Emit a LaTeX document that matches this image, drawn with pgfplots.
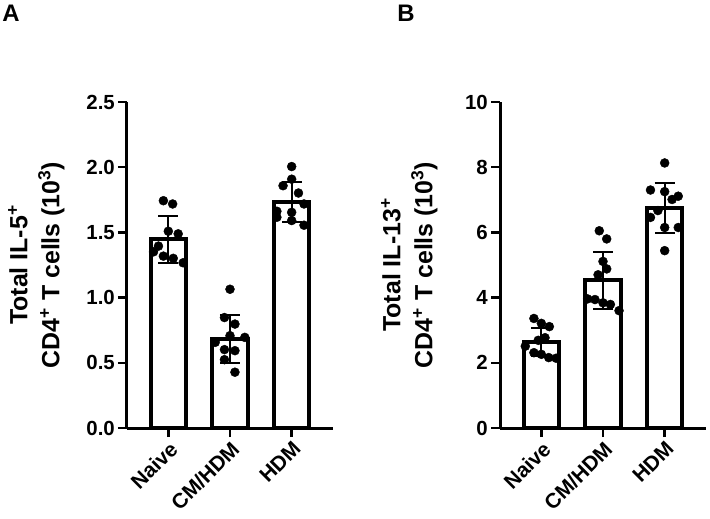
\documentclass[border=0pt]{standalone}
\usepackage{fontspec}
\setmainfont{Liberation Sans}
\usepackage{pgfplots}
\pgfplotsset{compat=1.18}

\pgfplotsset{
  prism/.style={
    scale only axis, width=206bp, height=326bp,
    xmin=-0.67, xmax=2.67, ymin=0,
    axis x line=bottom, axis y line=left,
    axis line style={-, line width=3bp, black},
    tick align=outside, major tick length=9bp,
    tick style={line width=2.5bp, black},
    xtick={0,1,2}, xticklabels={Naive, CM/HDM, HDM},
    xticklabel style={rotate=45, anchor=north east, inner sep=2bp,
      font=\fontsize{21}{24}\selectfont\bfseries},
    yticklabel style={font=\fontsize{20.5}{24}\selectfont\bfseries, inner sep=3bp},
    /pgf/number format/assume math mode=true,
    ylabel style={at={(axis description cs:-0.44,0.5)}, anchor=center,
      align=center, font=\fontsize{25}{32}\selectfont\bfseries},
    clip=false,
  },
  meanbar/.style={ybar, bar width=0.57, bar shift=0pt, draw=black, fill=white,
    line width=4bp,
    error bars/.cd, y dir=both, y explicit,
    error bar style={line width=2bp, black},
    error mark options={rotate=90, mark size=10bp, line width=2bp, black}},
  dots/.style={only marks, mark=*, mark size=4.5bp, black},
}

\begin{document}
\begin{tikzpicture}
\path[use as bounding box] (-127bp,-91bp) rectangle (583bp,428bp);

% Panel A: IL-5+ CD4+ T cells
\begin{axis}[prism, at={(0,0)}, anchor=south west,
  ymax=2.5, ytick={0,0.5,1,1.5,2,2.5},
  yticklabel style={/pgf/number format/.cd, fixed, fixed zerofill, precision=1},
  ylabel={Total IL-5\textsuperscript{+}\\CD4\textsuperscript{+} T cells (10\textsuperscript{3})}]
\addplot[meanbar] coordinates {
  (0,1.446) +- (0,0.178)
  (1,0.682) +- (0,0.186)
  (2,1.733) +- (0,0.153)
};
\addplot[dots] coordinates {
  (-0.08,1.743) (0.07,1.718) (0.00,1.509) (0.16,1.489) (-0.16,1.395)
  (-0.24,1.351) (-0.08,1.318) (0.08,1.301) (0.24,1.267)
};
\addplot[dots] coordinates {
  (1.00,1.064) (0.91,0.847) (1.08,0.797) (1.00,0.708) (1.24,0.695)
  (0.76,0.657) (0.91,0.601) (1.08,0.593) (0.91,0.524) (1.08,0.428)
};
\addplot[dots] coordinates {
  (2.00,2.005) (2.00,1.908) (1.86,1.858) (2.11,1.802) (2.20,1.718)
  (1.76,1.662) (2.00,1.654) (1.76,1.616) (2.00,1.591) (2.20,1.555)
};
\end{axis}
\node[font=\fontsize{24}{26}\selectfont\bfseries] at (-116bp,415bp) {A};

% Panel B: IL-13+ CD4+ T cells
\begin{axis}[prism, at={(373bp,0)}, anchor=south west,
  ymax=10, ytick={0,2,4,6,8,10},
  ylabel={Total IL-13\textsuperscript{+}\\CD4\textsuperscript{+} T cells (10\textsuperscript{3})}]
\addplot[meanbar] coordinates {
  (0,2.635) +- (0,0.435)
  (1,4.53) +- (0,0.87)
  (2,6.74) +- (0,0.76)
};
\addplot[dots] coordinates {
  (-0.12,3.36) (0.00,3.21) (0.13,3.11) (0.06,2.77) (-0.05,2.69)
  (-0.26,2.51) (-0.12,2.31) (0.00,2.26) (0.12,2.16) (0.24,2.14)
};
\addplot[dots] coordinates {
  (0.94,6.05) (1.06,5.80) (1.00,5.11) (1.06,4.88) (0.92,4.70)
  (0.75,3.96) (0.87,3.94) (1.00,3.84) (1.12,3.79) (1.26,3.60)
};
\addplot[dots] coordinates {
  (2.00,8.13) (1.77,7.30) (2.00,7.25) (2.12,7.01) (2.22,7.11)
  (1.89,6.67) (1.77,6.46) (2.00,6.15) (2.22,6.15) (2.00,5.44)
};
\end{axis}
\node[font=\fontsize{24}{26}\selectfont\bfseries] at (279bp,415bp) {B};
\end{tikzpicture}
\end{document}
